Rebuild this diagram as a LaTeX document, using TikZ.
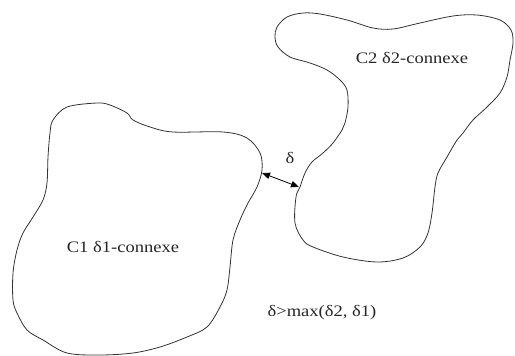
\documentclass[tikz,border=0pt]{standalone}
\usepackage{fontspec}
\setmainfont[FakeStretch=1.16]{Liberation Serif}
\usetikzlibrary{arrows.meta}

\begin{document}
\begin{tikzpicture}[
  x=1pt,y=-1pt,
  blob/.style={draw=black!80,line width=.8pt,tension=.55},
  lab/.style={font=\fontsize{16}{18}\selectfont,color=black!85,inner sep=0pt},
  gap/.style={{Triangle[length=8pt,width=6.5pt]}-{Triangle[length=8pt,width=6.5pt]},line width=.8pt}
]
  \useasboundingbox (0,0) rectangle (515,356);
  % C1
  \draw[blob] plot[smooth cycle] coordinates {
    (50,133) (53,120) (67,107) (97,103) (110,105) (127,113) (133,120)
    (150,127) (173,132) (223,132) (247,138) (260,153) (262,170) (257,187)
    (248,203) (240,220) (233,240) (230,267) (227,290) (220,307) (207,327)
    (187,337) (160,347) (133,353) (100,355) (67,353) (43,340) (27,330)
    (17,313) (13,300) (13,273) (17,250) (23,233) (33,217) (43,200)
    (47,183) (48,157)};
  % C2
  \draw[blob] plot[smooth cycle] coordinates {
    (277,27) (287,17) (303,13) (320,14) (347,20) (373,28) (393,29)
    (420,23) (453,16) (477,15) (500,20) (511,30) (513,43) (510,60)
    (507,77) (500,93) (487,107) (473,120) (463,133) (457,140) (447,157)
    (438,173) (435,187) (432,213) (428,233) (420,247) (403,258) (377,262)
    (343,257) (313,247) (303,240) (295,223) (296,197) (300,187) (305,173)
    (312,162) (323,153) (333,143) (342,130) (345,123) (348,107) (347,90)
    (340,80) (327,70) (310,63) (290,57) (278,47) (275,37)};
  \coordinate (c1gap) at (262,173);
  \coordinate (c2gap) at (299,187);
  \draw[gap] (c1gap) -- (c2gap);
  \node[lab] (dlab) at (290,158) {δ};
  \node[lab] (c1lab) at (123,247) {C1 δ1-connexe};
  \node[lab] (c2lab) at (412,58) {C2 δ2-connexe};
  \node[lab] (cond) at (322,313) {δ>max(δ2, δ1)};
\end{tikzpicture}
\end{document}
